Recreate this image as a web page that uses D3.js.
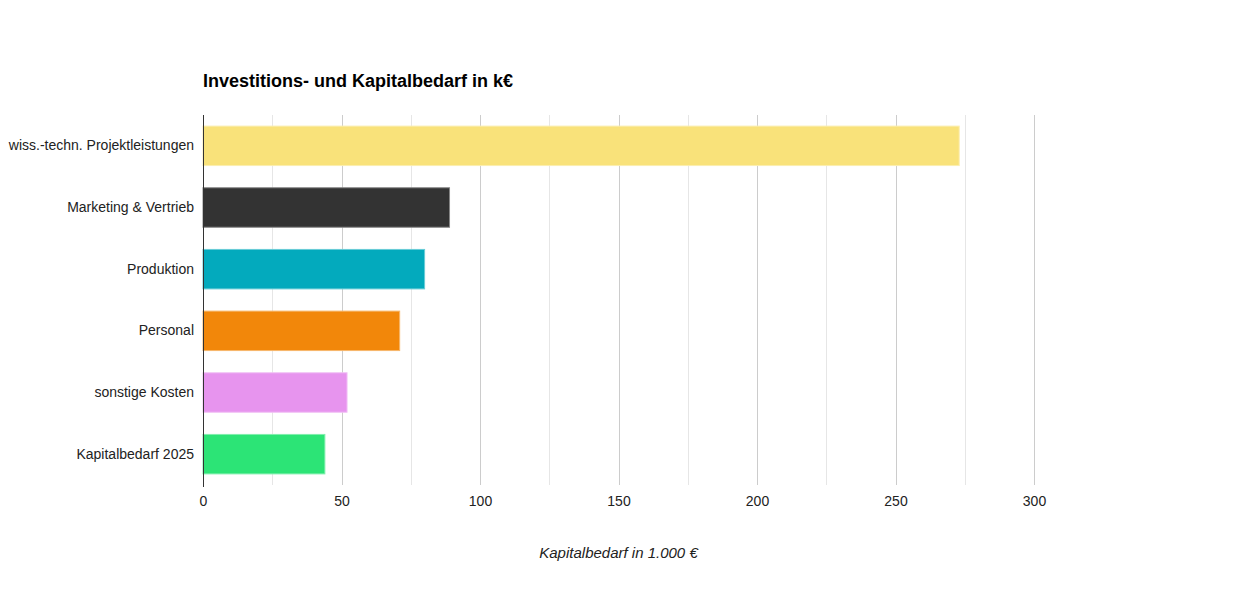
<!DOCTYPE html>
<html>
<head>
<meta charset="utf-8">
<script src="https://cdn.jsdelivr.net/npm/d3@7"></script>
<style>
  html, body { margin: 0; padding: 0; background: #fff; }
  svg { display: block; font-family: "Liberation Sans", Arial, sans-serif; }
</style>
</head>
<body>
<svg id="chart" width="1237" height="600"></svg>
<script>
const categories = [
  "wiss.-techn. Projektleistungen",
  "Marketing & Vertrieb",
  "Produktion",
  "Personal",
  "sonstige Kosten",
  "Kapitalbedarf 2025"
];
const values = [273, 89, 80, 71, 52, 44];
const colors = ["#f9e27a", "#333333", "#03aabd", "#f2870a", "#e794ee", "#2ce476"];
const xTicks = [0, 50, 100, 150, 200, 250, 300];
const xMinorTicks = [25, 75, 125, 175, 225, 275];
const title = "Investitions- und Kapitalbedarf in k€";
const xTitle = "Kapitalbedarf in 1.000 €";

const svg = d3.select("#chart");
const margin = { left: 203, top: 115 };

const x = d3.scaleLinear().domain([0, 300]).range([margin.left, 1034]);
const y = d3.scaleBand().domain(categories).range([margin.top, 485])
  .paddingInner(0.36).paddingOuter(0.18);

// minor grid
svg.append("g").selectAll("line").data(xMinorTicks).join("line")
  .attr("x1", d => Math.round(x(d)) + 0.5).attr("x2", d => Math.round(x(d)) + 0.5)
  .attr("y1", margin.top).attr("y2", 485)
  .attr("stroke", "#e6e6e6").attr("stroke-width", 1);
// major grid
svg.append("g").selectAll("line").data(xTicks.filter(d => d > 0)).join("line")
  .attr("x1", d => Math.round(x(d)) + 0.5).attr("x2", d => Math.round(x(d)) + 0.5)
  .attr("y1", margin.top).attr("y2", 485)
  .attr("stroke", "#cccccc").attr("stroke-width", 1);

// bars
svg.append("g").selectAll("rect").data(values).join("rect")
  .attr("x", x(0))
  .attr("y", (d, i) => y(categories[i]))
  .attr("width", d => x(d) - x(0))
  .attr("height", y.bandwidth())
  .attr("fill", (d, i) => colors[i])
  .attr("stroke", (d, i) => d3.interpolateRgb(colors[i], "#ffffff")(0.4))
  .attr("stroke-width", 1);

// y axis line
svg.append("line")
  .attr("x1", Math.round(x(0)) + 0.5).attr("x2", Math.round(x(0)) + 0.5)
  .attr("y1", margin.top).attr("y2", 487)
  .attr("stroke", "#333333").attr("stroke-width", 1);

// y labels
const yAxis = d3.axisLeft(y).tickSize(0).tickPadding(9);
const gy = svg.append("g").attr("transform", `translate(${x(0)},0)`).call(yAxis);
gy.select(".domain").remove();
gy.selectAll("text").attr("font-size", 14).attr("fill", "#222")
  .attr("font-family", "Liberation Sans, Arial, sans-serif");

// x axis labels
const xAxis = d3.axisBottom(x).tickValues(xTicks).tickSize(0).tickPadding(11);
const gx = svg.append("g").attr("transform", `translate(0,485)`).call(xAxis);
gx.select(".domain").remove();
gx.selectAll("text").attr("font-size", 14).attr("fill", "#222")
  .attr("font-family", "Liberation Sans, Arial, sans-serif");

// title
svg.append("text")
  .attr("x", margin.left).attr("y", 87)
  .attr("font-size", 18).attr("font-weight", "bold").attr("fill", "#000")
  .text(title);

// x title
svg.append("text")
  .attr("x", (x(0) + x(300)) / 2).attr("y", 558)
  .attr("text-anchor", "middle")
  .attr("font-size", 15).attr("font-style", "italic").attr("fill", "#222")
  .text(xTitle);
</script>
</body>
</html>
